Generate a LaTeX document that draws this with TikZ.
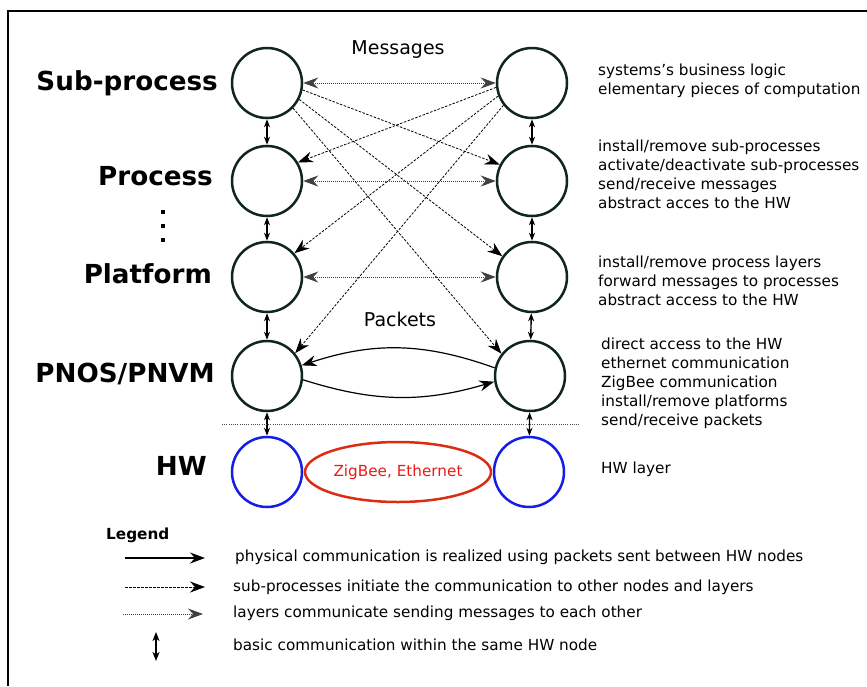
\documentclass[tikz,border=0pt]{standalone}
\usepackage{fontspec}
\setmainfont{DejaVu Sans}
\usetikzlibrary{arrows.meta,shapes.geometric}
\definecolor{nodecol}{RGB}{16,36,36}
\definecolor{hwblue}{RGB}{20,30,230}
\definecolor{ellred}{RGB}{220,45,20}
\definecolor{txtred}{RGB}{235,25,25}
\begin{document}
\begin{tikzpicture}[x=1pt,y=-1pt,
  big/.tip={Stealth[length=15pt,width=11pt,inset=5pt]},
  small/.tip={Stealth[length=8pt,width=6pt,inset=2.5pt]},
  legtip/.tip={Stealth[length=9pt,width=7pt,inset=2.5pt]},
  layer/.style={circle,draw=nodecol,line width=2.5pt,minimum size=70pt,inner sep=0pt},
  hwnode/.style={layer,draw=hwblue},
  title/.style={font=\fontsize{26.2}{30}\selectfont\bfseries,inner sep=0pt},
  desc/.style={font=\fontsize{15.25}{19}\selectfont,align=left,anchor=west,inner sep=0pt},
  msg/.style={draw=black!75,line width=0.9pt,dash pattern=on 1pt off 1pt,big-big},
  init/.style={draw=black,line width=0.8pt,dash pattern=on 2.5pt off 1.5pt,-big},
  phys/.style={draw=black,line width=1.2pt,-big},
  inner/.style={draw=black,line width=1.4pt,small-small}]
\useasboundingbox (0,0) rectangle (867,686);
\draw[line width=1.3pt] (8,686) -- (8,11) -- (867,11);

% layer nodes
\node[layer] (l1) at (267,83) {};
\node[layer] (r1) at (532,83) {};
\node[layer] (l2) at (267,181) {};
\node[layer] (r2) at (532,181) {};
\node[layer] (l3) at (267,277) {};
\node[layer] (r3) at (532,277) {};
\node[layer] (l4) at (267,376) {};
\node[layer] (r4) at (530,376) {};
\node[hwnode] (l5) at (267,472) {};
\node[hwnode] (r5) at (529,472) {};
\node[ellipse,draw=ellred,line width=2.5pt,minimum width=186pt,minimum height=60pt,inner sep=0pt,text=txtred,font=\fontsize{15.25}{18}\selectfont] (eth) at (398,472) {ZigBee, Ethernet};

% left titles
\node[title,anchor=base east] (tsp) at (218,90) {Sub-process};
\node[title,anchor=base east] (tp) at (213,185) {Process};
\node[title,anchor=base east] (tpl) at (212,283) {Platform};
\node[title,anchor=base east] (tpn) at (215,382) {PNOS/PNVM};
\node[title,anchor=base east] (thw) at (207,475) {HW};
\fill (161,210) rectangle (165,214);
\fill (161,224) rectangle (165,228);
\fill (161,238) rectangle (165,242);

\node[font=\fontsize{19}{22}\selectfont] (tmsg) at (398,50) {Messages};
\node[font=\fontsize{19}{22}\selectfont] (tpk) at (400,319) {Packets};

% right descriptions
\node[desc] (d1) at (598,81) {systems's business logic\\elementary pieces of computation};
\node[desc] (d2) at (598,174.5) {install/remove sub-processes\\activate/deactivate sub-processes\\send/receive messages\\abstract acces to the HW};
\node[desc] (d3) at (598,281) {install/remove process layers\\forward messages to processes\\abstract access to the HW};
\node[desc] (d4) at (601,383.5) {direct access to the HW\\ethernet communication\\ZigBee communication\\install/remove platforms\\send/receive packets};
\node[desc] (d5) at (601,469) {HW layer};

% vertical inner communication
\draw[inner] (l1) -- (l2);
\draw[inner] (l2) -- (l3);
\draw[inner] (l3) -- (l4);
\draw[inner] (l4) -- (l5);
\draw[inner] (r1) -- (r2);
\draw[inner] (r2) -- (r3);
\draw[inner] (r3) -- (r4);
\draw[inner] (r4) -- (r5);

% messages between same layers
\draw[msg] (l1) -- (r1);
\draw[msg] (l2) -- (r2);
\draw[msg] (l3) -- (r3);

% sub-process initiated communication
\draw[init] (l1.-11) -- (r2.153);
\draw[init] (l1.-27) -- (r3.145);
\draw[init] (l1.-44) -- (r4.142);
\draw[init] (r1.187) -- (l2.31);
\draw[init] (r1.201) -- (l3.41);
\draw[init] (r1.218) -- (l4.39);

% packets
\draw[phys] (r4.167) to[bend right=19] (l4.17);
\draw[phys] (l4.-6) to[bend right=17] (r4.189);

% separator
\coordinate (sepa) at (222,424);
\coordinate (sepb) at (580,424);
\draw[black!70,line width=0.9pt,dash pattern=on 1pt off 1.2pt] (sepa) -- (sepb);

% legend
\node[font=\fontsize{15.25}{18}\selectfont\bfseries,anchor=west,inner sep=0pt] (leg) at (106,535) {Legend};
\coordinate (a1) at (125,558); \coordinate (b1) at (205,558);
\coordinate (a2) at (125,587); \coordinate (b2) at (205,587);
\coordinate (a3) at (123,614); \coordinate (b3) at (203,614);
\coordinate (a4) at (156,632); \coordinate (b4) at (156,661);
\draw[phys] (a1) -- (b1);
\draw[init] (a2) -- (b2);
\draw[msg,-big] (a3) -- (b3);
\draw[inner,legtip-legtip] (a4) -- (b4);
\node[desc] (e1) at (235,557) {physical communication is realized using packets sent between HW nodes};
\node[desc] (e2) at (233,587) {sub-processes initiate the communication to other nodes and layers};
\node[desc] (e3) at (233,613) {layers communicate sending messages to each other};
\node[desc] (e4) at (233,645) {basic communication within the same HW node};
\end{tikzpicture}
\end{document}
